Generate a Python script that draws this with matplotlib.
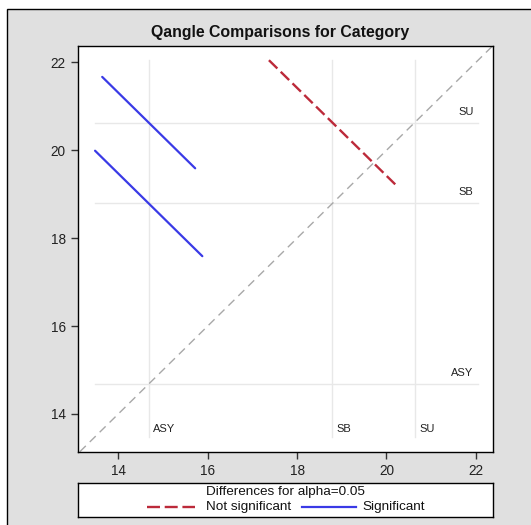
import matplotlib
matplotlib.use("Agg")
import matplotlib.pyplot as plt
from matplotlib.lines import Line2D
from matplotlib.patches import Rectangle

plt.rcParams["font.family"] = ["Liberation Sans", "DejaVu Sans"]

# group means (LS-means) for Category
groups = ["ASY", "SB", "SU"]
means = [14.68, 18.79, 20.63]

# pairwise comparisons: (x group, y group, half width of CI line in x units, significant?)
pair_x = ["ASY", "ASY", "SB"]
pair_y = ["SB", "SU", "SU"]
half_width = [1.20, 1.04, 1.42]
significant = [True, True, False]

xticks = [14, 16, 18, 20, 22]
yticks = [14, 16, 18, 20, 22]

W, H = 531, 525
fig = plt.figure(figsize=(W / 100, H / 100), dpi=100)
fig.patch.set_facecolor("white")

# gray graph wall with black border on top/left
fig.patches.append(Rectangle((7 / W, -0.1), 1.2, 1.1 - 9 / H, transform=fig.transFigure,
                             facecolor="#E0E0E0", edgecolor="black", lw=1, zorder=-5))

ax = fig.add_axes([78.3 / W, 1 - 451.7 / H, 415 / W, 406 / H])
ax.set_facecolor("white")

red = "#BC2A3A"
blue = "#3A3AE6"

mean_of = dict(zip(groups, means))

# endpoints of each comparison line
segs = []
for gx, gy, h, sig in zip(pair_x, pair_y, half_width, significant):
    cx, cy = mean_of[gx], mean_of[gy]
    segs.append(((cx - h, cx + h), (cy + h, cy - h), sig))

allv = [v for s in segs for v in s[0] + s[1]]
lo, hi = min(allv), max(allv)

# reference lines at group means
for g, m in zip(groups, means):
    ax.plot([m, m], [lo, hi], color="#E8E8E8", lw=1, zorder=1)
    ax.plot([lo, hi], [m, m], color="#E8E8E8", lw=1, zorder=1)
    ax.annotate(g, xy=(m, lo), xytext=(3.2, 5.5), textcoords="offset points",
                ha="left", va="center", fontsize=8, color="#222222")
    ax.annotate(g, xy=(hi, m), xytext=(-3.4, 7.9), textcoords="offset points",
                ha="right", va="center", fontsize=8, color="#222222")

ax.axline((14, 14), slope=1, color="#A8A8A8", lw=1, dashes=(6, 4), zorder=2)

for xs, ys, sig in segs:
    if sig:
        ax.plot(xs, ys, color=blue, lw=1.6, zorder=3, solid_capstyle="round")
    else:
        ax.plot(xs, ys, color=red, lw=1.7, dashes=(5, 2), zorder=3)

ax.set_xlim(13.105, 22.39)
ax.set_ylim(13.14, 22.38)
ax.set_xticks(xticks)
ax.set_yticks(yticks)
ax.tick_params(direction="out", length=5, width=1, labelsize=9.8, labelcolor="#222222",
               color="#333333", pad=4)
for sp in ax.spines.values():
    sp.set_color("black")
    sp.set_linewidth(1)

fig.text(280 / W, 1 - 32 / H, "Qangle Comparisons for Category", ha="center", va="center",
         fontsize=11.4, fontweight="bold", color="#111111")

# legend box
lax = fig.add_axes([78.3 / W, 1 - 516.7 / H, 415 / W, 34 / H])
lax.set_xlim(78.3, 493.3)
lax.set_ylim(516.7, 482.7)
lax.set_xticks([])
lax.set_yticks([])
lax.set_facecolor("white")
for sp in lax.spines.values():
    sp.set_color("black")
    sp.set_linewidth(1)
lax.text(285, 491.5, "Differences for alpha=0.05", ha="center", va="center", fontsize=9.7,
         color="#111111")
lax.add_line(Line2D([146.7, 195], [507, 507], color=red, lw=1.7, dashes=(5.5, 2)))
lax.text(206, 507, "Not significant", ha="left", va="center", fontsize=9.7, color="#111111")
lax.add_line(Line2D([302, 356], [507, 507], color=blue, lw=1.6))
lax.text(362, 507, "Significant", ha="left", va="center", fontsize=9.7, color="#111111")

fig.savefig("out.png", dpi=100)
